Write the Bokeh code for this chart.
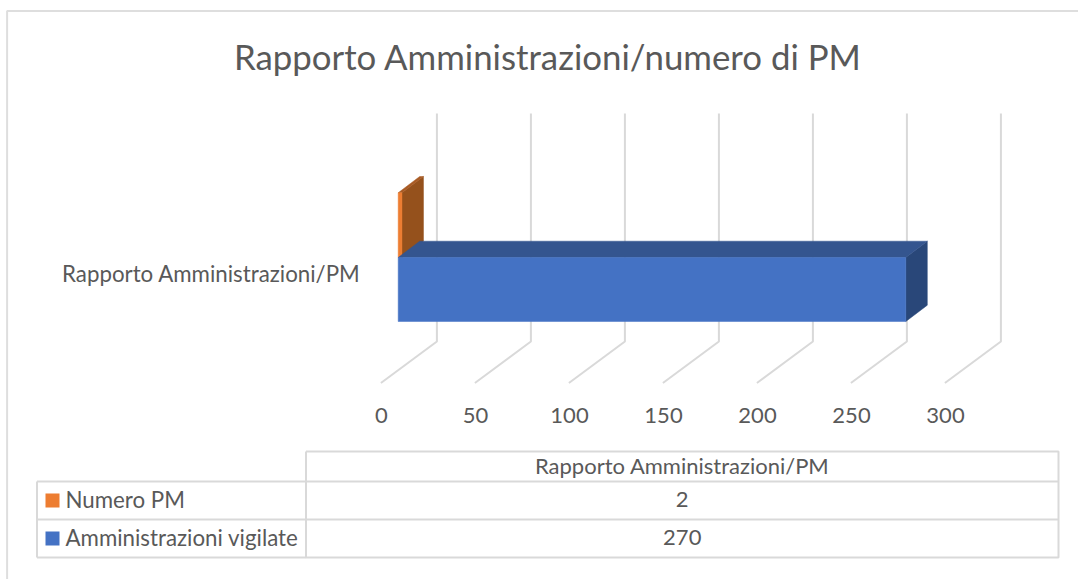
from bokeh.plotting import figure
from bokeh.models import Range1d
from bokeh.core.properties import value
from bokeh.embed import file_html
from bokeh.resources import INLINE

TITLE = "Rapporto Amministrazioni/numero di PM"
CATEGORY = "Rapporto Amministrazioni/PM"
SERIES = ["Numero PM", "Amministrazioni vigilate"]
VALUES = [2, 270]
TICKS = [0, 50, 100, 150, 200, 250, 300]
COLORS = ["#ED7D31", "#4472C4"]
TOPS = ["#A85A24", "#34558F"]
SIDES = ["#95511C", "#294779"]

INK = "#595959"
GRID = "#D9D9D9"
FONT = value("Lato")

W, H = 1078, 579
ORIGIN_PX = 381.0     # page x of value 0 on the front of the floor
PX_PER_UNIT = 1.88

def vx(px):
    """page x (layout position) expressed in axis units"""
    return (px - ORIGIN_PX) / PX_PER_UNIT

p = figure(width=W, height=H, output_backend="svg", toolbar_location=None,
           x_range=Range1d(vx(0), vx(W)), y_range=Range1d(H, 0),
           min_border=0, outline_line_color=None)
p.xaxis.visible = False
p.yaxis.visible = False
p.grid.visible = False
p.background_fill_color = "white"
p.border_fill_color = "white"

# chart border
p.line([vx(6.6), vx(6.6), vx(1078)], [579, 10.5, 10.5], line_color="#DEDEDE", line_width=2)

# title
p.text([vx(547.5)], [55.5], text=[TITLE], text_font=FONT, text_font_size="34.8px",
       text_color=INK, text_align="center", text_baseline="middle")

# walls and floor
NUDGE = vx(380.4) - vx(381)
BACK_DX, BACK_TOP, BACK_BOT, FRONT_BOT = vx(437) - vx(381), 113, 341, 382.5
for t in TICKS:
    p.line([t + NUDGE + BACK_DX, t + NUDGE + BACK_DX, t + NUDGE], [BACK_TOP, BACK_BOT, FRONT_BOT],
           line_color=GRID, line_width=2)
p.text(TICKS, [415] * len(TICKS), text=[str(t) for t in TICKS], text_font=FONT,
       text_font_size="22px", text_color=INK, text_align="center", text_baseline="middle")

# category label
p.text([vx(360)], [273], text=[CATEGORY], text_font=FONT, text_font_size="22.3px",
       text_color=INK, text_align="right", text_baseline="middle")

# 3-D bars (each starts on the front of the bar box, 17px in front of the wall base)
START = vx(397.7) - vx(381)
DDX, DDY = vx(423.5) - vx(402), 16.3
BARS = [(192.3, 257), (257, 321)]
for i in [0, 1]:
    x0, x1 = START, START + VALUES[i]
    top, bot = BARS[i]
    p.patch([x1, x1 + DDX, x1 + DDX, x1], [top, top - DDY, bot - DDY, bot],
            fill_color=SIDES[i], line_color=SIDES[i], line_width=0.5)
    p.patch([x0, x0 + DDX, x1 + DDX, x1], [top, top - DDY, top - DDY, top],
            fill_color=TOPS[i], line_color=TOPS[i], line_width=0.5)
    p.patch([x0, x1, x1, x0], [top, top, bot, bot],
            fill_color=COLORS[i], line_color=COLORS[i], line_width=0.5)

# data table
L, M, R = vx(36.5), vx(305.5), vx(1058)
ROW_Y = [451, 481, 519, 557]
p.line([M, R, R, M, M], [ROW_Y[0], ROW_Y[0], ROW_Y[3], ROW_Y[3], ROW_Y[0]], line_color=GRID, line_width=2)
p.line([L, R], [ROW_Y[1], ROW_Y[1]], line_color=GRID, line_width=2)
p.line([L, R], [ROW_Y[2], ROW_Y[2]], line_color=GRID, line_width=2)
p.line([L, M], [ROW_Y[3], ROW_Y[3]], line_color=GRID, line_width=2)
p.line([L, L], [ROW_Y[1], ROW_Y[3]], line_color=GRID, line_width=2)
p.text([(vx(305.5) + R) / 2], [465], text=[CATEGORY], text_font=FONT, text_font_size="22px",
       text_color=INK, text_align="center", text_baseline="middle")
for i in [0, 1]:
    yc = (ROW_Y[i + 1] + ROW_Y[i + 2]) / 2
    p.quad(left=[vx(45)], right=[vx(59)], top=[yc - 7], bottom=[yc + 7],
           fill_color=COLORS[i], line_color=None)
    p.text([vx(65)], [yc - 1], text=[SERIES[i]], text_font=FONT, text_font_size="22.3px",
           text_color=INK, text_align="left", text_baseline="middle")
    p.text([(vx(305.5) + R) / 2], [yc - 1], text=[str(VALUES[i])], text_font=FONT, text_font_size="22px",
           text_color=INK, text_align="center", text_baseline="middle")

open("out.html", "w").write(file_html(p, INLINE))
